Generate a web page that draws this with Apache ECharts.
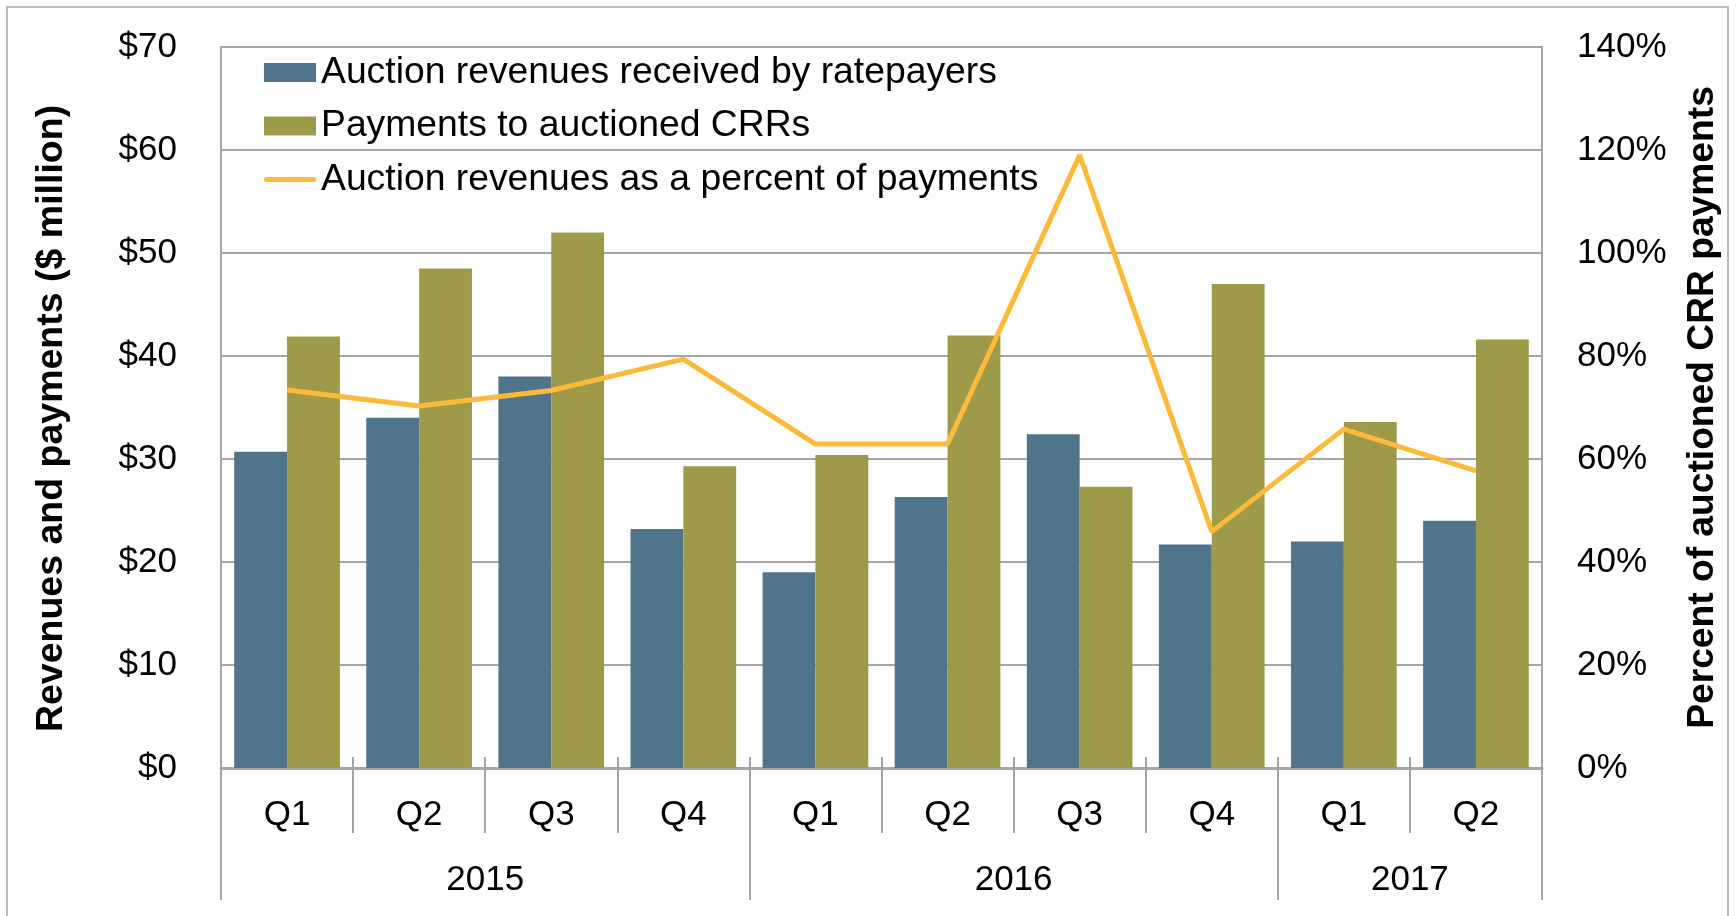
<!DOCTYPE html>
<html>
<head>
<meta charset="utf-8">
<script src="https://cdn.jsdelivr.net/npm/echarts@6/dist/echarts.min.js"></script>
<style>
  html, body { margin: 0; padding: 0; background: #fff; }
  #chart { width: 1736px; height: 916px; position: absolute; left: 0; top: 0; }
  #frame { position: absolute; left: 6px; top: 6px; width: 1723px; height: 1000px;
           border: 2px solid #BDBDBD; box-sizing: border-box; pointer-events: none; }
</style>
</head>
<body>
<div id="chart"></div>
<div id="frame"></div>
<script>
// ---- data ----
const quarters = ['Q1', 'Q2', 'Q3', 'Q4', 'Q1', 'Q2', 'Q3', 'Q4', 'Q1', 'Q2'];
const years = ['2015', '2016', '2017'];
const quartersPerYear = [4, 4, 2];
const revenuesToRatepayers = [30.7, 34.0, 38.0, 23.2, 19.0, 26.3, 32.4, 21.7, 22.0, 24.0];
const paymentsToCRRs = [41.9, 48.5, 52.0, 29.3, 30.4, 42.0, 27.3, 47.0, 33.6, 41.6];
const revenuePercent = [73.4, 70.3, 73.3, 79.4, 62.9, 62.9, 119.0, 45.9, 65.8, 57.7];
const seriesNames = [
  'Auction revenues received by ratepayers',
  'Payments to auctioned CRRs',
  'Auction revenues as a percent of payments'
];

// year boundaries and centres on the quarter scale
const yearBounds = [0];
quartersPerYear.forEach(n => yearBounds.push(yearBounds[yearBounds.length - 1] + n));
const yearCenters = years.map((y, i) => (yearBounds[i] + yearBounds[i + 1]) / 2);

const FONT = "'Liberation Sans', Arial, sans-serif";
const GRID_GRAY = '#A6A6A6';
const BLUE = '#50758A', GREEN = '#9D9B4A', ORANGE = '#FDB93A';
const LINE_ICON = 'path://M2.5,0 H49.5 A2.5,2.5 0 0 1 49.5,5 H2.5 A2.5,2.5 0 0 1 2.5,0 Z';

const chart = echarts.init(document.getElementById('chart'), null, { renderer: 'canvas' });
chart.setOption({
  animation: false,
  backgroundColor: '#fff',
  textStyle: { fontFamily: FONT, color: '#000' },
  grid: {
    left: 221, right: 194, top: 47, bottom: 148,
    show: true, borderColor: GRID_GRAY, borderWidth: 2, backgroundColor: 'transparent'
  },
  legend: {
    orient: 'vertical', left: 264, top: 54, padding: 0,
    itemWidth: 52, itemHeight: 19, itemGap: 16.5, symbolKeepAspect: true,
    textStyle: { fontFamily: FONT, fontSize: 37.3, color: '#000' },
    data: [
      { name: seriesNames[0], icon: 'rect' },
      { name: seriesNames[1], icon: 'rect' },
      { name: seriesNames[2], icon: LINE_ICON, itemStyle: { color: ORANGE } }
    ]
  },
  xAxis: [
    {
      type: 'category', data: quarters, position: 'bottom',
      axisLine: { show: true, lineStyle: { color: GRID_GRAY, width: 3 } },
      axisTick: { show: true, interval: 0, length: 65, lineStyle: { color: GRID_GRAY, width: 2 } },
      axisLabel: { fontFamily: FONT, fontSize: 35, color: '#000', margin: 30, interval: 0 },
      splitLine: { show: false }
    },
    {
      type: 'value', min: 0, max: quarters.length, interval: 1, position: 'bottom',
      axisLine: { show: false },
      axisTick: { show: true, customValues: yearBounds, length: 132, lineStyle: { color: GRID_GRAY, width: 2 } },
      axisLabel: {
        show: true, customValues: yearCenters, fontFamily: FONT, fontSize: 35, color: '#000', margin: 95,
        formatter: v => { const i = yearCenters.indexOf(v); return i >= 0 ? years[i] : ''; }
      },
      splitLine: { show: false }
    },
    {
      type: 'category', data: quarters, position: 'bottom',
      axisLine: { show: false },
      axisTick: { show: true, inside: true, interval: 0, length: 11, lineStyle: { color: GRID_GRAY, width: 2 } },
      axisLabel: { show: false },
      splitLine: { show: false }
    }
  ],
  yAxis: [
    {
      type: 'value', min: 0, max: 70, interval: 10,
      name: 'Revenues and payments ($ million)', nameLocation: 'middle', nameGap: 150,
      nameTextStyle: { fontFamily: FONT, fontSize: 37.5, fontWeight: 'bold', color: '#000', padding: [0, 22, 0, 0] },
      axisLine: { show: false }, axisTick: { show: false },
      axisLabel: { fontFamily: FONT, fontSize: 35, color: '#000', margin: 44, formatter: v => '$' + v },
      splitLine: { show: true, lineStyle: { color: GRID_GRAY, width: 2 } }
    },
    {
      type: 'value', min: 0, max: 140, interval: 20, position: 'right',
      name: 'Percent of auctioned CRR payments', nameLocation: 'middle', nameGap: 142,
      nameRotate: 90,
      nameTextStyle: { fontFamily: FONT, fontSize: 37.2, fontWeight: 'bold', color: '#000' },
      axisLine: { show: false }, axisTick: { show: false },
      axisLabel: { fontFamily: FONT, fontSize: 35, color: '#000', margin: 35, formatter: v => v + '%' },
      splitLine: { show: false }
    }
  ],
  series: [
    {
      name: seriesNames[0], type: 'bar', data: revenuesToRatepayers,
      xAxisIndex: 0, yAxisIndex: 0,
      barGap: '0%', barCategoryGap: '20%',
      itemStyle: { color: BLUE }
    },
    {
      name: seriesNames[1], type: 'bar', data: paymentsToCRRs,
      xAxisIndex: 0, yAxisIndex: 0,
      barGap: '0%', barCategoryGap: '20%',
      itemStyle: { color: GREEN }
    },
    {
      name: seriesNames[2], type: 'line', data: revenuePercent,
      xAxisIndex: 0, yAxisIndex: 1,
      symbol: 'none', z: 5,
      lineStyle: { color: ORANGE, width: 5 },
      itemStyle: { color: ORANGE }
    }
  ]
});
</script>
</body>
</html>
